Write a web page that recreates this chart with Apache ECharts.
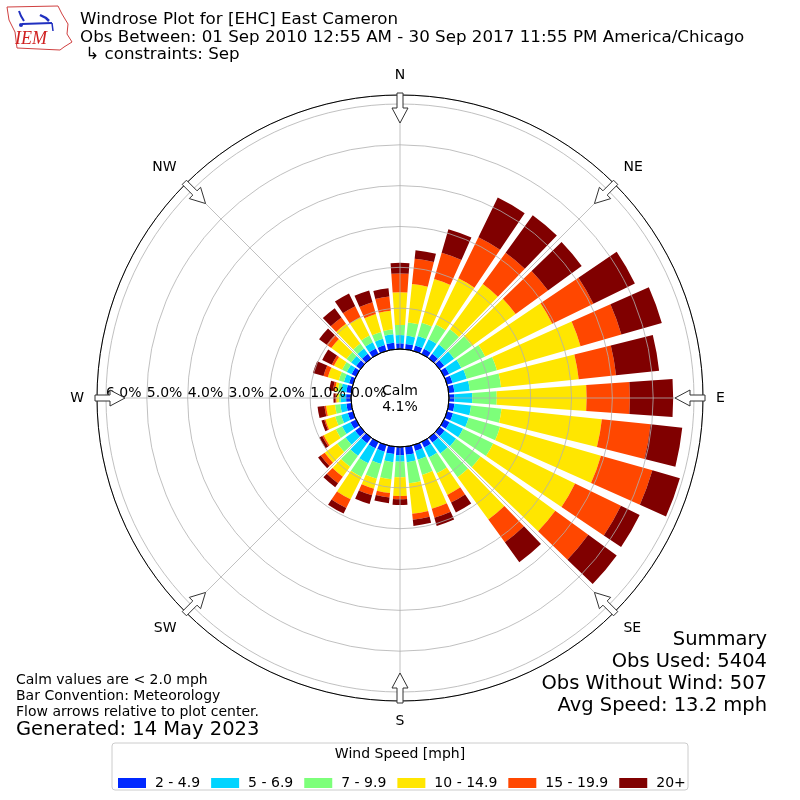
<!DOCTYPE html>
<html>
<head>
<meta charset="utf-8">
<script src="https://cdn.jsdelivr.net/npm/echarts@6/dist/echarts.min.js"></script>
<style>
html,body{margin:0;padding:0;background:#fff;}
#c{width:800px;height:800px;}
</style>
</head>
<body>
<div id="c"></div>
<script>
// Direction bins (degrees, meteorological, 10-degree sectors)
const directions = ['0','10','20','30','40','50','60','70','80','90','100','110','120','130','140','150','160','170',
                    '180','190','200','210','220','230','240','250','260','270','280','290','300','310','320','330','340','350'];
const speedBins = ['2 - 4.9','5 - 6.9','7 - 9.9','10 - 14.9','15 - 19.9','20+'];
// Frequency (%) of each speed bin per direction
const s2to5   = [.14,.13,.14,.14,.14,.14,.14,.14,.14,.13,.14,.15,.15,.15,.15,.15,.15,.20,.20,.18,.17,.17,.17,.16,.15,.13,.12,.12,.12,.10,.12,.13,.14,.15,.15,.16];
const s5to7   = [.20,.20,.24,.26,.28,.30,.33,.36,.38,.44,.41,.40,.37,.35,.33,.27,.22,.18,.16,.20,.31,.41,.38,.29,.23,.17,.15,.13,.13,.13,.13,.15,.16,.17,.16,.21];
const s7to10  = [.25,.33,.34,.40,.46,.54,.65,.77,.77,.60,.75,.80,.82,.74,.72,.43,.39,.52,.38,.42,.38,.37,.33,.25,.17,.15,.13,.05,.08,.13,.13,.14,.15,.18,.17,.12];
const s10to15 = [.80,.95,1.11,1.26,1.37,1.32,1.83,2.13,1.91,2.20,2.47,2.57,2.23,2.26,1.28,.59,.86,.75,.46,.34,.25,.61,.30,.38,.33,.25,.22,.06,.07,.28,.22,.46,.60,.50,.46,.46];
const s15to20 = [.46,.62,.67,1.12,.95,.98,1.12,1.04,.92,1.06,1.20,1.31,1.25,1.00,.69,.21,.23,.15,.08,.11,.17,.24,.20,.12,.04,.03,.04,.02,.05,.11,.06,.14,.19,.30,.30,.35];
const s20plus = [.26,.21,.60,1.08,1.13,1.02,1.13,1.03,1.06,1.06,.78,.70,.51,.86,.60,.27,.21,.15,.14,.14,.22,.15,.12,.08,.08,.07,.17,.05,.09,.27,.26,.23,.28,.35,.30,.20];
const seriesValues = [s2to5, s5to7, s7to10, s10to15, s15to20, s20plus];
const colors = ['#0028ff','#00d4ff','#7dff7a','#ffe600','#ff4700','#800000'];
// Radial tick labels / compass labels
const radialTicks = ['0.0%','1.0%','2.0%','3.0%','4.0%','5.0%','6.0%'];
const compass = {0:'W',45:'NW',90:'N',135:'NE',180:'E',225:'SE',270:'S',315:'SW'};
const calmPct = '4.1%';
const summaryLines = ['Summary','Obs Used: 5404','Obs Without Wind: 507','Avg Speed: 13.2 mph'];

const FONT = 'DejaVu Sans';
const CX = 400, CY = 398, R0 = 49, R1 = 303;

function arrow(deg){
  const t = deg*Math.PI/180;
  const pts = [[305,-3],[290,-3],[290,-8],[275,0],[290,8],[290,3],[305,3]];
  return pts.map(([u,v]) => [CX + u*Math.sin(t) + v*Math.cos(t), CY - u*Math.cos(t) + v*Math.sin(t)]);
}
const arrows = [0,45,90,135,180,225,270,315].map(d => ({
  type:'polygon', shape:{points: arrow(d)}, z: 20,
  style:{fill:'#fff', stroke:'#333', lineWidth:1}
}));
const summary = summaryLines.map((t,i) => ({
  type:'text', x:767, y:640 + i*22, z:20,
  style:{text:t, font:'19.5px "DejaVu Sans"', fill:'#000', textAlign:'right', textVerticalAlign:'middle'}
}));

const chart = echarts.init(document.getElementById('c'), null, {renderer:'canvas'});
const option = {
  backgroundColor:'#fff',
  animation:false,
  textStyle:{fontFamily:FONT},
  polar:[
    {center:[CX,CY], radius:[R0,R1]},
    {center:[CX,CY], radius:[R0,R1]}
  ],
  angleAxis:[
    {polarIndex:0, type:'category', data:directions, startAngle:95, clockwise:true, show:false},
    {polarIndex:1, type:'value', min:0, max:360, interval:45, startAngle:180, clockwise:true, z:5,
     axisLine:{show:true, lineStyle:{color:'#000', width:1}},
     axisTick:{show:false},
     splitLine:{show:true, lineStyle:{color:'#b0b0b0', width:0.8}},
     axisLabel:{show:true, margin:13, fontSize:14, color:'#000', fontFamily:FONT, showMaxLabel:false,
                formatter: v => compass[v] || ''}}
  ],
  radiusAxis:[
    {polarIndex:0, type:'value', min:0, max:6.22, show:false},
    {polarIndex:1, type:'value', min:0, max:6.22, interval:1, z:5,
     axisLine:{show:false}, axisTick:{show:false},
     splitLine:{show:true, lineStyle:{color:'#b0b0b0', width:0.8}},
     axisLabel:{show:true, showMaxLabel:false, fontSize:14, color:'#000', fontFamily:FONT, margin:2,
                align:'left', verticalAlign:'bottom',
                formatter: v => radialTicks[Math.round(v)] || ''}}
  ],
  legend:{
    data:speedBins, left:118, top:776, padding:0, itemWidth:28, itemHeight:10, itemGap:11, icon:'rect',
    textStyle:{fontSize:14, color:'#000', fontFamily:FONT, padding:[0,0,0,4]}
  },
  title:[
    {text:'Windrose Plot for [EHC] East Cameron\nObs Between: 01 Sep 2010 12:55 AM - 30 Sep 2017 11:55 PM America/Chicago\n ↳ constraints: Sep',
     left:80, top:11, padding:0, textStyle:{fontSize:16.7, fontWeight:'normal', color:'#000', lineHeight:17.5, fontFamily:FONT}},
    {text:'Calm values are < 2.0 mph\nBar Convention: Meteorology\nFlow arrows relative to plot center.',
     left:16, top:672, padding:0, textStyle:{fontSize:14, fontWeight:'normal', color:'#000', lineHeight:16, fontFamily:FONT}},
    {text:'Generated: 14 May 2023', left:16, top:720, padding:0,
     textStyle:{fontSize:19.5, fontWeight:'normal', color:'#000', fontFamily:FONT}}
  ],
  series: seriesValues.map((vals,i) => ({
    type:'bar', name:speedBins[i], coordinateSystem:'polar', polarIndex:0, stack:'wind',
    data:vals, barCategoryGap:'20%', itemStyle:{color:colors[i]}, z:2
  })),
  graphic:[
    {type:'circle', shape:{cx:CX, cy:CY, r:R0}, z:15, style:{fill:null, stroke:'#000', lineWidth:1}},
    {type:'text', x:CX, y:CY-7, z:16, style:{text:'Calm', font:'14px "DejaVu Sans"', fill:'#000', textAlign:'center', textVerticalAlign:'middle'}},
    {type:'text', x:CX, y:CY+9, z:16, style:{text:calmPct, font:'14px "DejaVu Sans"', fill:'#000', textAlign:'center', textVerticalAlign:'middle'}},
    ...arrows,
    ...summary,
    {type:'rect', shape:{x:112, y:743, width:576, height:47, r:3}, z:0,
     style:{fill:'#fff', stroke:'#cccccc', lineWidth:1}},
    {type:'text', x:400, y:754, z:16, style:{text:'Wind Speed [mph]', font:'14px "DejaVu Sans"', fill:'#000', textAlign:'center', textVerticalAlign:'middle'}},
    // IEM logo
    {type:'polygon', z:16, shape:{points:[[7,7],[58,6],[62,14],[68,24],[67,34],[72,42],[64,47],[60,50],[17,48],[15,32],[9,20]]},
     style:{fill:'#fff', stroke:'#d04040', lineWidth:1}},
    {type:'polyline', z:17, shape:{points:[[19,11],[21,16],[24,21]]}, style:{stroke:'#2030c0', lineWidth:2, fill:null}},
    {type:'line', z:17, shape:{x1:22, y1:24, x2:52, y2:23}, style:{stroke:'#2030c0', lineWidth:2}},
    {type:'polyline', z:17, shape:{points:[[40,15],[46,18],[49,21]]}, style:{stroke:'#2030c0', lineWidth:2.5, fill:null}},
    {type:'line', z:17, shape:{x1:52, y1:23, x2:53, y2:31}, style:{stroke:'#2030c0', lineWidth:1.5}},
    {type:'circle', z:17, shape:{cx:21, cy:25, r:2}, style:{fill:'#2030c0'}},
    {type:'text', z:17, x:15, y:30, style:{text:'IEM', font:'italic 18px "Liberation Serif"', fill:'#d02020'}}
  ]
};
chart.setOption(option);
</script>
</body>
</html>
